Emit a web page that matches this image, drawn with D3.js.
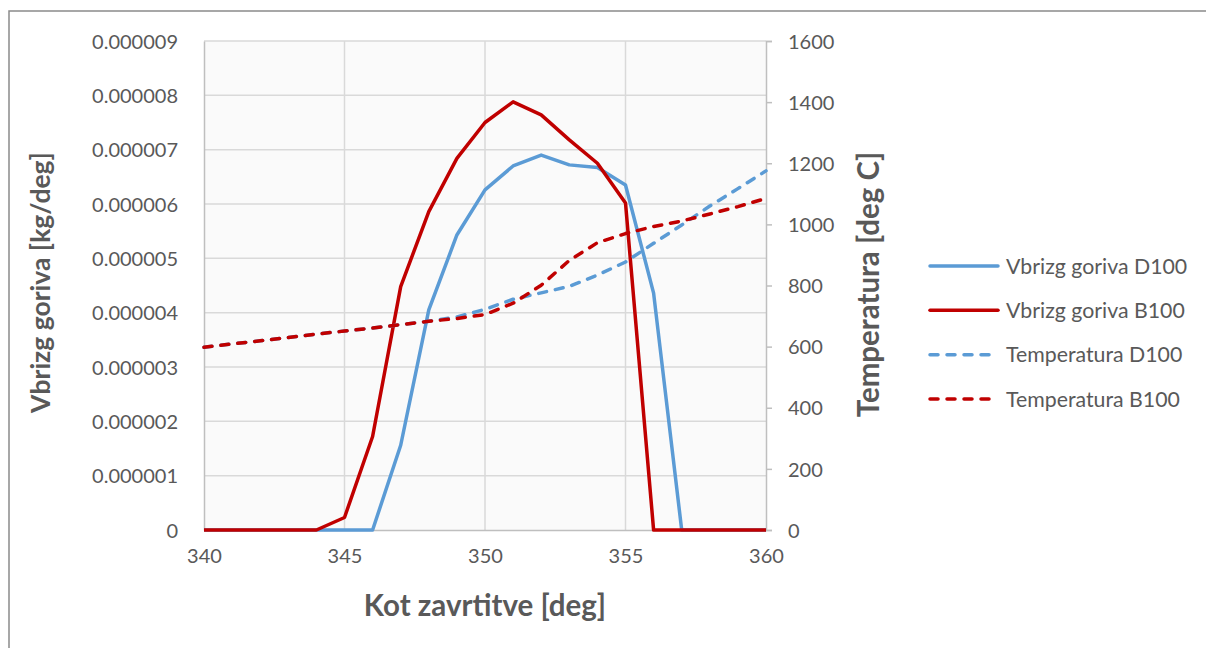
<!DOCTYPE html>
<html>
<head>
<meta charset="utf-8">
<script src="https://cdn.jsdelivr.net/npm/d3@7"></script>
<style>
  html, body { margin: 0; padding: 0; background: #ffffff; }
  svg { display: block; }
  text { font-family: Lato, "Open Sans", sans-serif; fill: #595959; }
</style>
</head>
<body>
<svg id="chart" width="1206" height="648"></svg>
<script>
// Crank angle [deg]
const angles = [340, 341, 342, 343, 344, 345, 346, 347, 348, 349, 350,
                351, 352, 353, 354, 355, 356, 357, 358, 359, 360];

// Fuel injection rate [kg/deg]
const injectionD100 = [0, 0, 0, 0, 0, 0, 0, 1.56e-6, 4.05e-6, 5.43e-6, 6.26e-6,
                       6.70e-6, 6.90e-6, 6.72e-6, 6.67e-6, 6.35e-6, 4.36e-6, 0, 0, 0, 0];
const injectionB100 = [0, 0, 0, 0, 0, 2.3e-7, 1.72e-6, 4.48e-6, 5.86e-6, 6.84e-6, 7.50e-6,
                       7.88e-6, 7.64e-6, 7.18e-6, 6.75e-6, 6.02e-6, 0, 0, 0, 0, 0];

// In-cylinder temperature [deg C]
const temperatureD100 = [598, 609, 619, 630, 641, 651, 661, 672, 683, 697, 722,
                         755, 776, 797, 834, 877, 938, 998, 1060, 1117, 1175];
const temperatureB100 = [598, 609, 619, 630, 641, 651, 661, 672, 683, 692, 705,
                         742, 801, 882, 940, 970, 993, 1011, 1034, 1058, 1085];

// Axis ticks
const xTicks = [340, 345, 350, 355, 360];
const leftTicks = [0, 1e-6, 2e-6, 3e-6, 4e-6, 5e-6, 6e-6, 7e-6, 8e-6, 9e-6];
const rightTicks = [0, 200, 400, 600, 800, 1000, 1200, 1400, 1600];

const seriesNames = ["Vbrizg goriva D100", "Vbrizg goriva B100",
                     "Temperatura D100", "Temperatura B100"];

const BLUE = "#5b9bd5", RED = "#c00000";

const svg = d3.select("#chart");

// outer chart frame
svg.append("rect")
  .attr("x", 9).attr("y", 11).attr("width", 1400).attr("height", 1000)
  .attr("fill", "#ffffff").attr("stroke", "#8a8a8a").attr("stroke-width", 1.5);

const plot = { left: 204, right: 766, top: 41, bottom: 530 };

const x = d3.scaleLinear().domain([340, 360]).range([plot.left, plot.right]);
const yL = d3.scaleLinear().domain([0, 9e-6]).range([plot.bottom, plot.top]);
const yR = d3.scaleLinear().domain([0, 1600]).range([plot.bottom, plot.top]);

// plot background
svg.append("rect")
  .attr("x", plot.left).attr("y", plot.top)
  .attr("width", plot.right - plot.left).attr("height", plot.bottom - plot.top)
  .attr("fill", "#fafafa");

// gridlines
const grid = svg.append("g").attr("stroke", "#d9d9d9").attr("stroke-width", 1.5);
grid.selectAll("line.h").data(leftTicks.slice(1)).join("line")
  .attr("x1", plot.left).attr("x2", plot.right)
  .attr("y1", d => yL(d)).attr("y2", d => yL(d));
grid.selectAll("line.v").data(xTicks.slice(1, -1)).join("line")
  .attr("x1", d => x(d)).attr("x2", d => x(d))
  .attr("y1", plot.top).attr("y2", plot.bottom);

// axes
const fmtLeft = d => d === 0 ? "0" : d3.format(".6f")(d);

const xAxis = svg.append("g")
  .attr("transform", `translate(0,${plot.bottom})`)
  .call(d3.axisBottom(x).tickValues(xTicks).tickSize(0).tickPadding(19).tickFormat(d3.format("d")));
const leftAxis = svg.append("g")
  .attr("transform", `translate(${plot.left},0)`)
  .call(d3.axisLeft(yL).tickValues(leftTicks).tickSize(0).tickPadding(26).tickFormat(fmtLeft));
const rightAxis = svg.append("g")
  .attr("transform", `translate(${plot.right},0)`)
  .call(d3.axisRight(yR).tickValues(rightTicks).tickSize(6).tickPadding(16).tickFormat(d3.format("d")));

[xAxis, leftAxis, rightAxis].forEach(a => {
  a.select(".domain").attr("stroke", "#bfbfbf").attr("stroke-width", 1.5);
  a.selectAll(".tick line").attr("stroke", "#bfbfbf").attr("stroke-width", 1.5);
  a.selectAll("text").attr("font-size", 20).attr("fill", "#595959")
    .style("font-family", "Lato, 'Open Sans', sans-serif");
});
leftAxis.selectAll("text").attr("dy", "0.36em");
rightAxis.selectAll("text").attr("dy", "0.36em");
xAxis.selectAll("text").attr("dy", "0.72em");

// series lines
const lineL = d3.line().x((d, i) => x(angles[i])).y(d => yL(d));
const lineR = d3.line().x((d, i) => x(angles[i])).y(d => yR(d));

const series = [
  { values: injectionD100, gen: lineL, color: BLUE, dash: null },
  { values: injectionB100, gen: lineL, color: RED, dash: null },
  { values: temperatureD100, gen: lineR, color: BLUE, dash: "8,9" },
  { values: temperatureB100, gen: lineR, color: RED, dash: "8,9" }
];

svg.append("g").selectAll("path").data(series).join("path")
  .attr("d", s => s.gen(s.values))
  .attr("fill", "none")
  .attr("stroke", s => s.color)
  .attr("stroke-width", 3.5)
  .attr("stroke-linejoin", "round")
  .attr("stroke-linecap", s => s.dash ? "round" : "butt")
  .attr("stroke-dasharray", s => s.dash);

// axis titles
svg.append("text")
  .attr("x", (plot.left + plot.right) / 2).attr("y", 605)
  .attr("text-anchor", "middle").attr("dy", "0.36em")
  .attr("font-size", 29.5).attr("font-weight", "bold")
  .text("Kot zavrtitve [deg]");
svg.append("text")
  .attr("transform", `translate(40,${(plot.top + plot.bottom) / 2 - 3}) rotate(-90)`)
  .attr("text-anchor", "middle").attr("dy", "0.36em")
  .attr("font-size", 26.5).attr("font-weight", "bold")
  .text("Vbrizg goriva [kg/deg]");
svg.append("text")
  .attr("transform", `translate(868,${(plot.top + plot.bottom) / 2 - 1}) rotate(-90)`)
  .attr("text-anchor", "middle").attr("dy", "0.36em")
  .attr("font-size", 29.5).attr("font-weight", "bold")
  .text("Temperatura [deg C]");

// legend
const legendY = d3.scaleLinear().domain([0, 3]).range([266, 399]);
const legend = svg.append("g").selectAll("g").data(series).join("g")
  .attr("transform", (s, i) => `translate(930,${legendY(i)})`);
legend.append("line")
  .attr("x1", 0).attr("x2", 68).attr("y1", 0).attr("y2", 0)
  .attr("stroke", s => s.color).attr("stroke-width", 3.5)
  .attr("stroke-linecap", "round")
  .attr("stroke-dasharray", s => s.dash);
legend.append("text")
  .attr("x", 76).attr("y", 0).attr("dy", "0.36em")
  .attr("font-size", 21.3)
  .text((s, i) => seriesNames[i]);
</script>
</body>
</html>
